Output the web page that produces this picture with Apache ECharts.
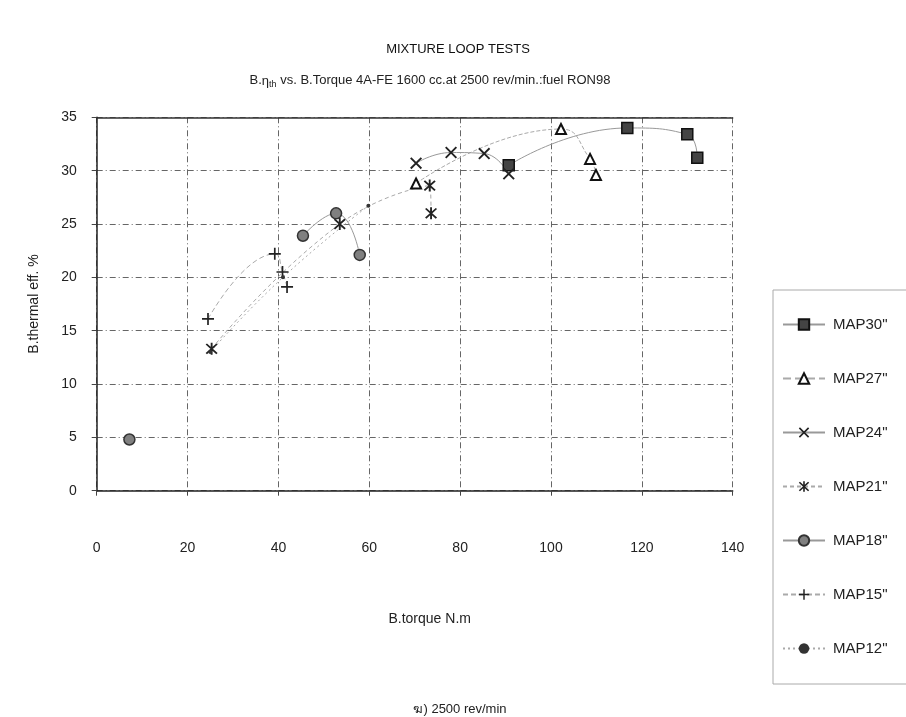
<!DOCTYPE html>
<html>
<head>
<meta charset="utf-8">
<script src="https://cdn.jsdelivr.net/npm/echarts@6/dist/echarts.min.js"></script>
<style>html,body{margin:0;padding:0;background:#fff}#c{width:906px;height:717px}</style>
</head>
<body>
<div id="c"></div>
<script>
// ---- data (B.torque N.m, B.thermal eff. %) ----
const map30 = [[90.7, 30.5], [116.8, 34.0], [130.0, 33.4], [132.2, 31.2]];
const map27 = [[70.3, 28.8], [102.2, 33.9], [108.6, 31.1], [109.9, 29.6]];
const map24 = [[70.3, 30.7], [78.0, 31.7], [85.3, 31.6], [90.7, 29.7]];
const map21 = [[25.3, 13.3], [53.5, 25.0], [73.3, 28.6], [73.6, 26.0]];
const map18 = [[45.4, 23.9], [52.7, 26.0], [57.9, 22.1]];
const map18Low = [[7.2, 4.8]];
const map15 = [[24.5, 16.1], [39.2, 22.2], [40.9, 20.5], [41.9, 19.1]];
const map12 = [[25.0, 13.0], [41.0, 20.0], [59.8, 26.7]];
const seriesNames = ['MAP30"', 'MAP27"', 'MAP24"', 'MAP21"', 'MAP18"', 'MAP15"', 'MAP12"'];
const xTicks = [0, 20, 40, 60, 80, 100, 120, 140];
const yTicks = [0, 5, 10, 15, 20, 25, 30, 35];

const FONT = 'Liberation Sans, Arial, sans-serif';
const PLUS = 'path://M4.3,0H5.7V4.3H10V5.7H5.7V10H4.3V5.7H0V4.3H4.3Z';
const CROSS = 'path://M1.5,0.5L9.5,8.5L8.5,9.5L0.5,1.5ZM8.5,0.5L9.5,1.5L1.5,9.5L0.5,8.5Z';
const STAR = 'path://M4.3,0H5.7V10H4.3ZM1.5,0.5L9.5,8.5L8.5,9.5L0.5,1.5ZM8.5,0.5L9.5,1.5L1.5,9.5L0.5,8.5Z';

const chart = echarts.init(document.getElementById('c'), null, {renderer: 'canvas'});
const lineBase = {type: 'line', smooth: true, z: 3};
const gridLine = {show: true, lineStyle: {color: '#666', width: 1, type: [6, 3, 1, 3]}};

chart.setOption({
  backgroundColor: '#fff',
  animation: false,
  textStyle: {fontFamily: FONT},
  title: [
    {text: 'MIXTURE LOOP TESTS', left: 453, top: 38, textAlign: 'center',
     textStyle: {fontSize: 13, fontWeight: 'normal', color: '#111', fontFamily: FONT}},
    {text: 'B.{g|η}{s|th} vs. B.Torque 4A-FE 1600 cc.at 2500 rev/min.:fuel RON98', left: 425, top: 66, textAlign: 'center',
     textStyle: {fontSize: 13, fontWeight: 'normal', color: '#222', fontFamily: FONT,
       rich: {g: {fontSize: 13, color: '#222', fontFamily: FONT, padding: [3, 0, 0, 0]},
              s: {fontSize: 9, color: '#222', fontFamily: FONT, padding: [9, 0, 0, 0]}}}},
    {text: 'ฆ) 2500 rev/min', left: 455, top: 698, textAlign: 'center',
     textStyle: {fontSize: 13, fontWeight: 'normal', color: '#222', fontFamily: FONT}}
  ],
  grid: {left: 96.7, right: 173.3, top: 117.3, bottom: 226.3, containLabel: false},
  xAxis: [
    {type: 'value', min: xTicks[0], max: xTicks[xTicks.length - 1], interval: 20, position: 'bottom',
     name: 'B.torque N.m', nameLocation: 'middle', nameGap: 121,
     nameTextStyle: {fontSize: 14, color: '#222', fontFamily: FONT, padding: [0, 0, 0, 30]},
     axisLine: {show: true, lineStyle: {color: '#222', width: 1.5}},
     axisTick: {show: true, inside: false, length: 5, lineStyle: {color: '#444'}},
     axisLabel: {fontSize: 14, color: '#222', margin: 50, fontFamily: FONT},
     splitLine: gridLine},
    {type: 'value', min: xTicks[0], max: xTicks[xTicks.length - 1], interval: 20, position: 'top',
     axisLine: {show: true, onZero: false, lineStyle: {color: '#333', width: 1.5}},
     axisTick: {show: false}, axisLabel: {show: false}, splitLine: {show: false}}
  ],
  yAxis: {type: 'value', min: yTicks[0], max: yTicks[yTicks.length - 1], interval: 5,
    name: 'B.thermal eff. %', nameLocation: 'middle', nameGap: 56, nameRotate: 90,
    nameTextStyle: {fontSize: 14, color: '#222', fontFamily: FONT},
    axisLine: {show: true, lineStyle: {color: '#222', width: 1.5}},
    axisTick: {show: true, inside: false, length: 5, lineStyle: {color: '#444'}},
    axisLabel: {fontSize: 14, color: '#222', margin: 20, fontFamily: FONT},
    splitLine: gridLine},
  legend: {
    orient: 'vertical', left: 773, top: 290,
    padding: [27, 80, 28, 9],
    itemWidth: 42, itemHeight: 13, itemGap: 39,
    borderColor: '#aaa', borderWidth: 1,
    textStyle: {fontSize: 15, color: '#222', fontFamily: FONT, padding: [0, 0, 0, 3]},
    data: seriesNames
  },
  series: [
    Object.assign({}, lineBase, {name: seriesNames[0], data: map30, symbol: 'rect', symbolSize: 11,
      itemStyle: {color: '#444', borderColor: '#111', borderWidth: 1.5},
      lineStyle: {color: '#999', width: 1, type: 'solid'}}),
    Object.assign({}, lineBase, {name: seriesNames[1], data: map27, symbol: 'triangle', symbolSize: 10,
      itemStyle: {color: '#fff', borderColor: '#111', borderWidth: 2},
      lineStyle: {color: '#aaa', width: 1, type: 'dashed'}}),
    Object.assign({}, lineBase, {name: seriesNames[2], data: map24, symbol: CROSS, symbolSize: 12,
      itemStyle: {color: '#222'},
      lineStyle: {color: '#999', width: 1, type: 'solid'}}),
    Object.assign({}, lineBase, {name: seriesNames[3], data: map21, symbol: STAR, symbolSize: 12,
      itemStyle: {color: '#222'},
      lineStyle: {color: '#aaa', width: 1, type: [4, 3]}}),
    Object.assign({}, lineBase, {name: seriesNames[4], data: map18, symbol: 'circle', symbolSize: 11,
      itemStyle: {color: '#808080', borderColor: '#333', borderWidth: 1.5},
      lineStyle: {color: '#999', width: 1, type: 'solid'}}),
    Object.assign({}, lineBase, {name: seriesNames[4], data: map18Low, symbol: 'circle', symbolSize: 11,
      itemStyle: {color: '#808080', borderColor: '#333', borderWidth: 1.5},
      lineStyle: {color: '#999', width: 1}}),
    Object.assign({}, lineBase, {name: seriesNames[5], data: map15, symbol: PLUS, symbolSize: 12,
      itemStyle: {color: '#222'},
      lineStyle: {color: '#aaa', width: 1, type: [5, 3]}}),
    Object.assign({}, lineBase, {name: seriesNames[6], data: map12, symbol: 'circle', symbolSize: 4,
      itemStyle: {color: '#333'},
      lineStyle: {color: '#aaa', width: 1, type: [2, 3]}})
  ]
});
</script>
</body>
</html>
